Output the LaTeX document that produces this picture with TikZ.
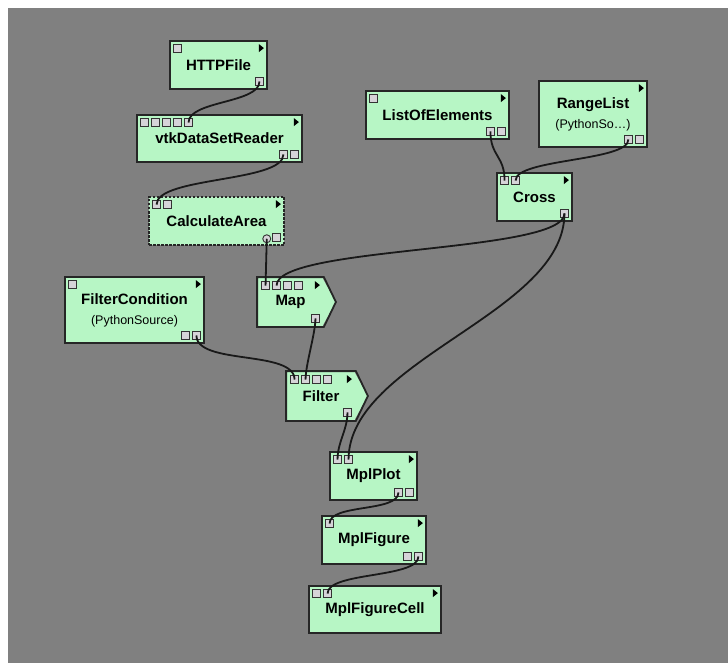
\documentclass[tikz,border=0pt]{standalone}
\usepackage{fontspec}
\setmainfont{Liberation Sans}
\usetikzlibrary{calc}

\definecolor{bggray}{RGB}{128,128,128}
\definecolor{modgreen}{RGB}{183,246,197}
\definecolor{portgray}{RGB}{214,212,216}

\begin{document}
\begin{tikzpicture}[x=1pt,y=-1pt,
  module/.style={draw=black!85,line width=1.8pt,fill=modgreen,inner sep=0pt,align=center,
    minimum height=48,font=\bfseries\fontsize{15}{19}\selectfont},
  port/.style={draw=black!80,line width=0.9pt,fill=portgray,inner sep=0pt,minimum size=8},
  wire/.style={line width=1.8pt,black!90}]
  \fill[white] (0,0) rectangle (728,663);
  \fill[bggray] (8,8) rectangle (728,663);
  \useasboundingbox (0,0) rectangle (728,663);

  % modules
  \node[module,minimum width=97] (http) at (218.5,65) {HTTPFile};
  \node[module,minimum width=165,minimum height=47] (vtk) at (219.5,138.5) {vtkDataSetReader};
  \node[module,minimum width=135,dash pattern=on 2.5pt off 1.5pt] (calc) at (216.5,221) {CalculateArea};
  \node[module,minimum width=143] (list) at (437.5,115) {ListOfElements};
  \node[module,minimum width=108,minimum height=66] (range) at (593,114)
    {RangeList\\[1pt]{\mdseries\fontsize{12.5}{15}\selectfont (PythonSo…)}};
  \node[module,minimum width=75] (cross) at (534.5,197) {Cross};
  \node[module,minimum width=139,minimum height=66] (fcond) at (134.5,310)
    {FilterCondition\\[1pt]{\mdseries\fontsize{12.5}{15}\selectfont (PythonSource)}};
  \node[module,draw=none,minimum width=65] (map) at (290.5,302) {Map};
  \node[module,draw=none,minimum width=68] (filter) at (321,396) {Filter};
  \node[module,minimum width=87] (plot) at (373.5,476) {MplPlot};
  \node[module,minimum width=104] (fig) at (374,540) {MplFigure};
  \node[module,minimum width=132,minimum height=47] (cell) at (375,609.5) {MplFigureCell};

  % pointed modules
  \foreach \m in {map,filter}{
    \fill[modgreen] ([xshift=-2]\m.north east) -- ([xshift=12]\m.east) -- ([xshift=-2]\m.south east) -- cycle;
    \draw[black!85,line width=1.8pt] (\m.north west) -- (\m.north east) -- ([xshift=12]\m.east)
      -- (\m.south east) -- (\m.south west) -- cycle;
  }

  % ports
  \foreach \m/\n in {http/1,vtk/5,calc/2,list/1,cross/2,fcond/1,map/4,filter/4,plot/2,fig/1,cell/2}
    \foreach \i in {1,...,\n}
      \node[port,anchor=north west] (\m-i\i) at ([shift={({4+11*(\i-1)},4)}]\m.north west) {};
  \foreach \m/\n in {http/1,vtk/2,list/2,range/2,cross/1,fcond/2,map/1,filter/1,plot/2,fig/2}
    \foreach \i in {1,...,\n}
      \node[port,anchor=south east] (\m-o\i) at ([shift={({-4-11*(\n-\i)},-4)}]\m.south east) {};
  \node[port,circle,anchor=south east] (calc-o1) at ([shift={(-15,-4)}]calc.south east) {};
  \node[port,anchor=south east] (calc-o2) at ([shift={(-4,-4)}]calc.south east) {};

  \foreach \m in {http,vtk,calc,list,range,cross,fcond,map,filter,plot,fig,cell}
    \fill[black] ([shift={(-9,4)}]\m.north east) -- ++(0,8) -- ++(5,-4) -- cycle;

  % connections
  \draw[wire] (http-o1.center) .. controls +(0,22) and +(0,-22) .. (vtk-i5.center);
  \draw[wire] (vtk-o1.center) .. controls +(0,28) and +(0,-28) .. (calc-i1.center);
  \draw[wire] (calc-o1.center) -- (map-i1.center);
  \draw[wire] (list-o1.center) .. controls +(0,25) and +(0,-25) .. (cross-i1.center);
  \draw[wire] (range-o1.center) .. controls +(0,22) and +(0,-22) .. (cross-i2.center);
  \draw[wire] (cross-o1.center) .. controls +(0,40) and +(0,-40) .. (map-i2.center);
  \draw[wire] (cross-o1.center) .. controls +(0,100) and +(0,-100) .. (plot-i2.center);
  \draw[wire] (fcond-o2.center) .. controls +(0,30) and +(0,-30) .. (filter-i1.center);
  \draw[wire] (map-o1.center) .. controls +(0,15) and +(0,-15) .. (filter-i2.center);
  \draw[wire] (filter-o1.center) .. controls +(0,18) and +(0,-18) .. (plot-i1.center);
  \draw[wire] (plot-o1.center) .. controls +(0,20) and +(0,-20) .. (fig-i1.center);
  \draw[wire] (fig-o2.center) .. controls +(0,22) and +(0,-22) .. (cell-i2.center);
\end{tikzpicture}
\end{document}
